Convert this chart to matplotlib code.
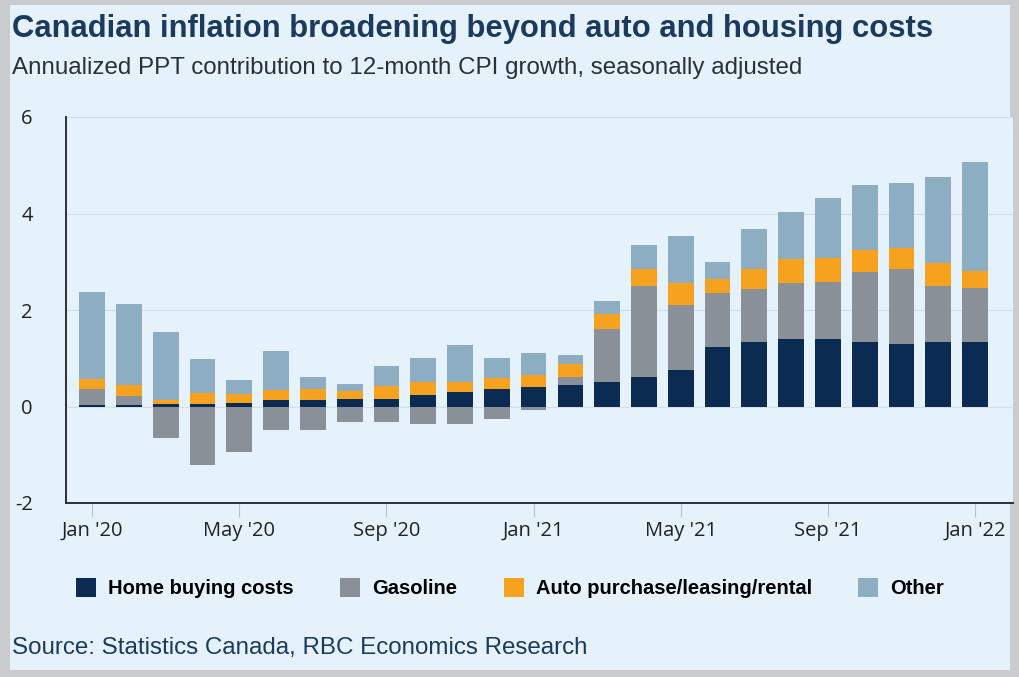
import numpy as np
import matplotlib.pyplot as plt
from matplotlib.patches import Patch, Rectangle

plt.rcParams["axes.unicode_minus"] = False

# months Jan 2020 .. Jan 2022
months = ["Jan '20", "Feb '20", "Mar '20", "Apr '20", "May '20", "Jun '20", "Jul '20",
          "Aug '20", "Sep '20", "Oct '20", "Nov '20", "Dec '20", "Jan '21", "Feb '21",
          "Mar '21", "Apr '21", "May '21", "Jun '21", "Jul '21", "Aug '21", "Sep '21",
          "Oct '21", "Nov '21", "Dec '21", "Jan '22"]

home = [0.03, 0.03, 0.06, 0.06, 0.08, 0.13, 0.13, 0.15, 0.16, 0.23, 0.30, 0.37, 0.41,
        0.44, 0.51, 0.61, 0.75, 1.23, 1.33, 1.40, 1.40, 1.33, 1.29, 1.33, 1.33]
gasoline = [0.33, 0.19, -0.66, -1.22, -0.95, -0.49, -0.49, -0.33, -0.33, -0.37, -0.37,
            -0.26, -0.07, 0.17, 1.10, 1.89, 1.35, 1.12, 1.10, 1.16, 1.18, 1.45, 1.56,
            1.16, 1.12]
auto = [0.22, 0.22, 0.08, 0.21, 0.18, 0.21, 0.24, 0.18, 0.26, 0.27, 0.20, 0.22, 0.24,
        0.28, 0.31, 0.35, 0.46, 0.29, 0.42, 0.49, 0.49, 0.46, 0.44, 0.49, 0.36]
other = [1.79, 1.68, 1.40, 0.71, 0.28, 0.81, 0.25, 0.13, 0.41, 0.50, 0.78, 0.41, 0.45,
         0.18, 0.26, 0.50, 0.97, 0.36, 0.82, 0.98, 1.25, 1.36, 1.35, 1.77, 2.26]

labels = ["Home buying costs", "Gasoline", "Auto purchase/leasing/rental", "Other"]
colors = ["#0B2B52", "#8A9098", "#F6A21E", "#8DAEC2"]

tick_idx = [0, 4, 8, 12, 16, 20, 24]

bg = "#E6F2FB"
navy = "#1B3A5E"

fig = plt.figure(figsize=(10.2, 6.77), dpi=100)
fig.patch.set_facecolor("#C9CBCD")
# light panel inside the grey screenshot border
fig.add_artist(Rectangle((10 / 1020, 7 / 677), 1000 / 1020, 665 / 677,
                         transform=fig.transFigure, facecolor=bg, edgecolor="none", zorder=0))

ax = fig.add_axes([66 / 1020, 1 - 503 / 677, (1013 - 66) / 1020, (503 - 117) / 677])
ax.set_facecolor(bg)

x = np.arange(len(months))
series = [np.array(home), np.array(gasoline), np.array(auto), np.array(other)]
pos_base = np.zeros(len(months))
neg_base = np.zeros(len(months))
for vals, col in zip(series, colors):
    bottoms = np.where(vals >= 0, pos_base, neg_base)
    ax.bar(x, vals, bottom=bottoms, width=0.7, color=col, zorder=3)
    pos_base = pos_base + np.clip(vals, 0, None)
    neg_base = neg_base + np.clip(vals, None, 0)

ax.set_xlim(-0.71, 25.03)
ax.set_ylim(-2, 6)
ax.set_yticks([-2, 0, 2, 4, 6])
ax.set_xticks(tick_idx)
ax.set_xticklabels([months[i] for i in tick_idx])
ax.tick_params(axis="y", length=0, pad=24, labelsize=14.5, colors="#222222")
ax.tick_params(axis="x", length=10, width=0.8, color="#B8C2CA", pad=3,
               labelsize=14.5, labelcolor="#222222")
for lab in ax.get_xticklabels() + ax.get_yticklabels():
    lab.set_family(["Open Sans", "DejaVu Sans"])
ax.grid(axis="y", color="#D3DEE7", linewidth=0.8, zorder=0)
for s in ["top", "right"]:
    ax.spines[s].set_visible(False)
for s in ["left", "bottom"]:
    ax.spines[s].set_color("#2A2F36")
    ax.spines[s].set_linewidth(1.4)

title_font = ["Liberation Sans", "DejaVu Sans"]
fig.text(12 / 1020, 1 - 29 / 677, "Canadian inflation broadening beyond auto and housing costs",
         family=title_font, fontsize=22.3, fontweight="bold", color=navy, va="center")
fig.text(12 / 1020, 1 - 68 / 677,
         "Annualized PPT contribution to 12-month CPI growth, seasonally adjusted",
         family=title_font, fontsize=17.4, color="#2B2F36", va="center")
fig.text(12 / 1020, 1 - 648 / 677, "Source: Statistics Canada, RBC Economics Research",
         family=title_font, fontsize=17.4, color=navy, va="center")

handles = [Patch(facecolor=c, edgecolor="none") for c in colors]
fig.legend(handles, labels, loc="center", bbox_to_anchor=(0.5, 1 - 588 / 677), ncol=4,
           frameon=False, handlelength=1.0, handleheight=1.1, handletextpad=0.6,
           columnspacing=2.3, prop={"family": title_font, "weight": "bold", "size": 14.5})

fig.savefig("out.png", dpi=100, facecolor=fig.get_facecolor())
